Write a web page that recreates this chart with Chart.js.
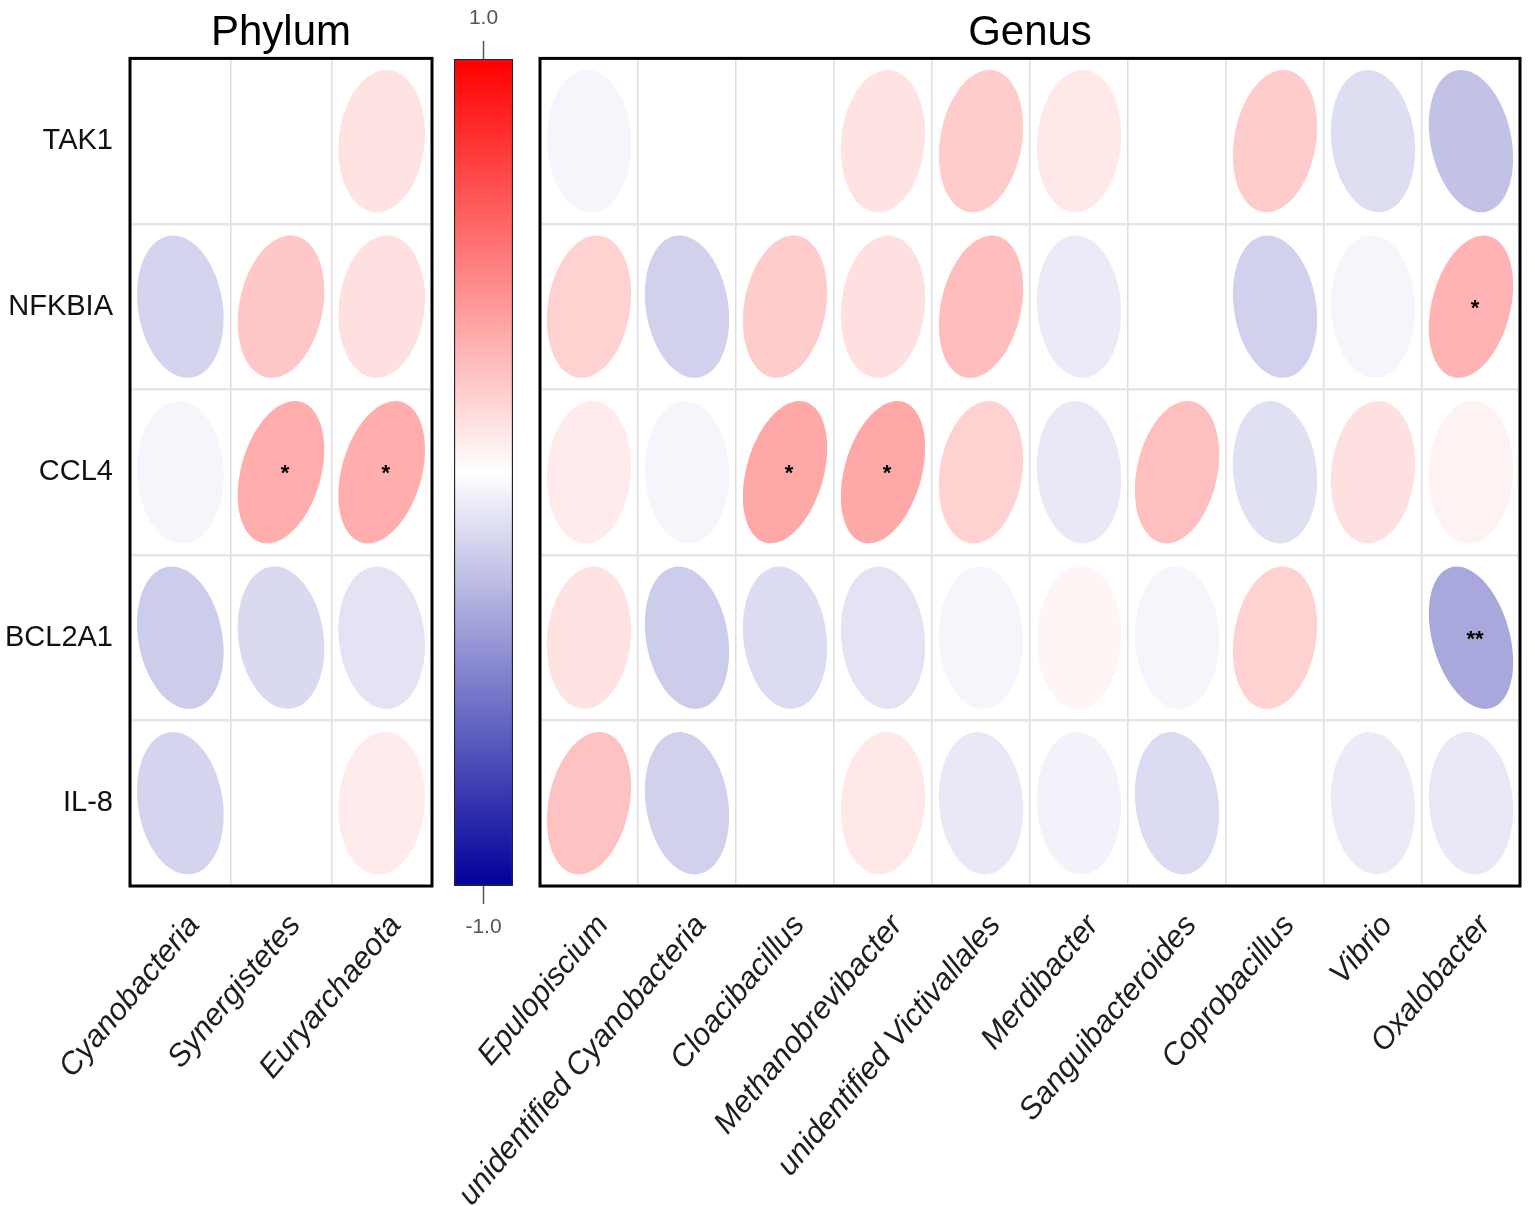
<!DOCTYPE html>
<html>
<head>
<meta charset="utf-8">
<script src="https://cdn.jsdelivr.net/npm/chart.js@4.4.1/dist/chart.umd.min.js"></script>
<style>
  html, body { margin: 0; padding: 0; background: #fff; }
  #page { position: relative; width: 1535px; height: 1206px; overflow: hidden; background: #fff; }
  .layer { position: absolute; left: 0; top: 0; width: 1535px; height: 1206px; }
</style>
</head>
<body>
<div id="page">
  <div class="layer"><canvas id="phylumChart"></canvas></div>
  <div class="layer"><canvas id="scaleBar"></canvas></div>
  <div class="layer"><canvas id="genusChart"></canvas></div>
</div>
<script>
// rows and columns
const genes = ['TAK1', 'NFKBIA', 'CCL4', 'BCL2A1', 'IL-8'];
const phyla = ['Cyanobacteria', 'Synergistetes', 'Euryarchaeota'];
const genera = ['Epulopiscium', 'unidentified Cyanobacteria', 'Cloacibacillus', 'Methanobrevibacter',
  'unidentified Victivallales', 'Merdibacter', 'Sanguibacteroides', 'Coprobacillus', 'Vibrio', 'Oxalobacter'];

// correlation (r) per gene, phylum level
const phylumTAK1   = [0.00, 0.00, 0.11];
const phylumNFKBIA = [-0.17, 0.22, 0.12];
const phylumCCL4   = [-0.04, 0.32, 0.32];
const phylumBCL2A1 = [-0.20, -0.15, -0.11];
const phylumIL8    = [-0.17, 0.00, 0.08];

// correlation (r) per gene, genus level
const genusTAK1   = [-0.04, 0.00, 0.00, 0.11, 0.20, 0.09, 0.00, 0.20, -0.13, -0.24];
const genusNFKBIA = [0.18, -0.18, 0.20, 0.12, 0.26, -0.08, 0.00, -0.18, -0.04, 0.30];
const genusCCL4   = [0.08, -0.04, 0.34, 0.34, 0.18, -0.09, 0.25, -0.12, 0.12, 0.05];
const genusBCL2A1 = [0.11, -0.20, -0.14, -0.11, -0.04, 0.04, -0.04, 0.18, 0.00, -0.34];
const genusIL8    = [0.24, -0.18, 0.00, 0.09, -0.09, -0.05, -0.14, 0.00, -0.08, -0.09];

// significance marks [gene, taxon, mark]
const phylumStars = [['CCL4', 'Synergistetes', '*'], ['CCL4', 'Euryarchaeota', '*']];
const genusStars = [['NFKBIA', 'Oxalobacter', '*'], ['CCL4', 'Cloacibacillus', '*'],
  ['CCL4', 'Methanobrevibacter', '*'], ['BCL2A1', 'Oxalobacter', '**']];

// colour key
const keyRange = [-1, 1];
const keyTicks = [1.0, -1.0];

Chart.defaults.font.family = "'Liberation Sans', Arial, Helvetica, sans-serif";
Chart.defaults.animation = false;

function corrColor(r) {
  if (r >= 0) {
    const v = Math.round(255 * (1 - r));
    return `rgb(255,${v},${v})`;
  }
  const a = -r;
  const v = Math.round(255 * (1 - a));
  return `rgb(${v},${v},${Math.round(255 - 100 * a)})`;
}

function buildPoints(taxa, rows, stars) {
  const pts = [];
  genes.forEach((g, i) => {
    taxa.forEach((t, j) => {
      const s = stars.find(m => m[0] === g && m[1] === t);
      pts.push({ x: t, y: g, r: rows[i][j], star: s ? s[2] : '' });
    });
  });
  return pts;
}

// draws corrplot-style ellipses on the point positions + panel frame
const ellipsePlugin = {
  id: 'corrEllipses',
  afterDatasetsDraw(chart) {
    const { ctx, chartArea: a } = chart;
    const xs = chart.scales.x, ys = chart.scales.y;
    const hw = Math.abs(xs.getPixelForValue(1) - xs.getPixelForValue(0)) * 0.43;
    const hh = Math.abs(ys.getPixelForValue(1) - ys.getPixelForValue(0)) * 0.43;
    const meta = chart.getDatasetMeta(0);
    const pts = chart.data.datasets[0].data;
    ctx.save();
    meta.data.forEach((el, i) => {
      const p = pts[i];
      const d = Math.acos(Math.max(-1, Math.min(1, p.r)));
      ctx.beginPath();
      for (let k = 0; k <= 90; k++) {
        const t = k / 90 * Math.PI * 2;
        const ex = el.x + Math.cos(t + d / 2) * hw;
        const ey = el.y - Math.cos(t - d / 2) * hh;
        if (k === 0) ctx.moveTo(ex, ey); else ctx.lineTo(ex, ey);
      }
      ctx.closePath();
      ctx.fillStyle = corrColor(p.r);
      ctx.fill();
      if (p.star) {
        ctx.fillStyle = '#000';
        ctx.font = "bold 22px 'Liberation Sans', Arial, sans-serif";
        ctx.textAlign = 'center';
        ctx.textBaseline = 'middle';
        ctx.fillText(p.star, el.x + 4, el.y + 2);
      }
    });
    ctx.strokeStyle = '#000';
    ctx.lineWidth = 3;
    ctx.strokeRect(a.left, a.top, a.right - a.left, a.bottom - a.top);
    ctx.restore();
  }
};

function panelOptions(title, padLeft, padRight, showGenes) {
  return {
    responsive: true,
    maintainAspectRatio: false,
    events: [],
    layout: { padding: { left: padLeft, right: padRight, top: 0, bottom: 0 } },
    plugins: {
      legend: { display: false },
      tooltip: { enabled: false },
      title: {
        display: true, text: title, fullSize: false, color: '#000',
        font: { size: 42, weight: 'normal' }, padding: { top: 8, bottom: 0 }
      }
    },
    scales: {
      x: {
        type: 'category', offset: true,
        grid: { offset: true, color: '#dedede', lineWidth: 1.5, drawTicks: false },
        border: { display: false },
        ticks: {
          autoSkip: false, minRotation: 50, maxRotation: 50, padding: 22, labelOffset: 14,
          color: '#1e1e1e', font: { size: 31, style: 'italic' }
        },
        afterFit(s) { s.height = 320; s.paddingLeft = 0; s.paddingRight = 0; }
      },
      y: {
        type: 'category', offset: true,
        grid: { offset: true, color: '#e6e6e6', lineWidth: 2.5, drawTicks: false },
        border: { display: false },
        ticks: { display: showGenes, padding: 17, color: '#111', font: { size: 29 } },
        afterFit(s) { s.width = showGenes ? 130 : 0; s.paddingTop = 0; s.paddingBottom = 0; }
      }
    }
  };
}

function panelConfig(title, taxa, rows, stars, padLeft, padRight, showGenes) {
  const opts = panelOptions(title, padLeft, padRight, showGenes);
  opts.scales.x.labels = taxa;
  opts.scales.y.labels = genes;
  return {
    type: 'scatter',
    data: { datasets: [{ data: buildPoints(taxa, rows, stars), pointRadius: 0, pointHoverRadius: 0 }] },
    options: opts,
    plugins: [ellipsePlugin]
  };
}

new Chart(document.getElementById('phylumChart'), panelConfig('Phylum', phyla,
  [phylumTAK1, phylumNFKBIA, phylumCCL4, phylumBCL2A1, phylumIL8], phylumStars, 0, 1103, true));

new Chart(document.getElementById('genusChart'), panelConfig('Genus', genera,
  [genusTAK1, genusNFKBIA, genusCCL4, genusBCL2A1, genusIL8], genusStars, 540, 15, false));

// colour key bar
const keyPlugin = {
  id: 'keyTicks',
  afterDatasetsDraw(chart) {
    const { ctx } = chart;
    const ys = chart.scales.y;
    const cx = (chart.chartArea.left + chart.chartArea.right) / 2;
    ctx.save();
    ctx.strokeStyle = '#555';
    ctx.lineWidth = 1.5;
    ctx.fillStyle = '#555';
    ctx.font = "21px 'Liberation Sans', Arial, sans-serif";
    ctx.textAlign = 'center';
    ctx.textBaseline = 'middle';
    keyTicks.forEach(v => {
      const py = ys.getPixelForValue(v);
      const dir = v > 0 ? -1 : 1;
      ctx.beginPath();
      ctx.moveTo(cx, py);
      ctx.lineTo(cx, py + dir * 18);
      ctx.stroke();
      ctx.fillText(v.toFixed(1), cx, py + dir * 41);
    });
    ctx.restore();
  }
};

new Chart(document.getElementById('scaleBar'), {
  type: 'bar',
  data: {
    labels: ['r'],
    datasets: [{
      data: [keyRange],
      backgroundColor(c) {
        const ch = c.chart;
        if (!ch.chartArea) return '#fff';
        const ys = ch.scales.y;
        const g = ch.ctx.createLinearGradient(0, ys.getPixelForValue(1), 0, ys.getPixelForValue(-1));
        for (let k = 0; k <= 20; k++) {
          const r = 1 - k / 10;
          g.addColorStop(k / 20, corrColor(r));
        }
        return g;
      },
      borderColor: '#222',
      borderWidth: 1.5,
      borderSkipped: false,
      barPercentage: 1,
      categoryPercentage: 1
    }]
  },
  options: {
    responsive: true,
    maintainAspectRatio: false,
    events: [],
    layout: { padding: { left: 454, right: 1022, top: 59, bottom: 320 } },
    plugins: { legend: { display: false }, tooltip: { enabled: false } },
    scales: {
      x: { display: false },
      y: { display: false, min: keyRange[0], max: keyRange[1] }
    }
  },
  plugins: [keyPlugin]
});
</script>
</body>
</html>
